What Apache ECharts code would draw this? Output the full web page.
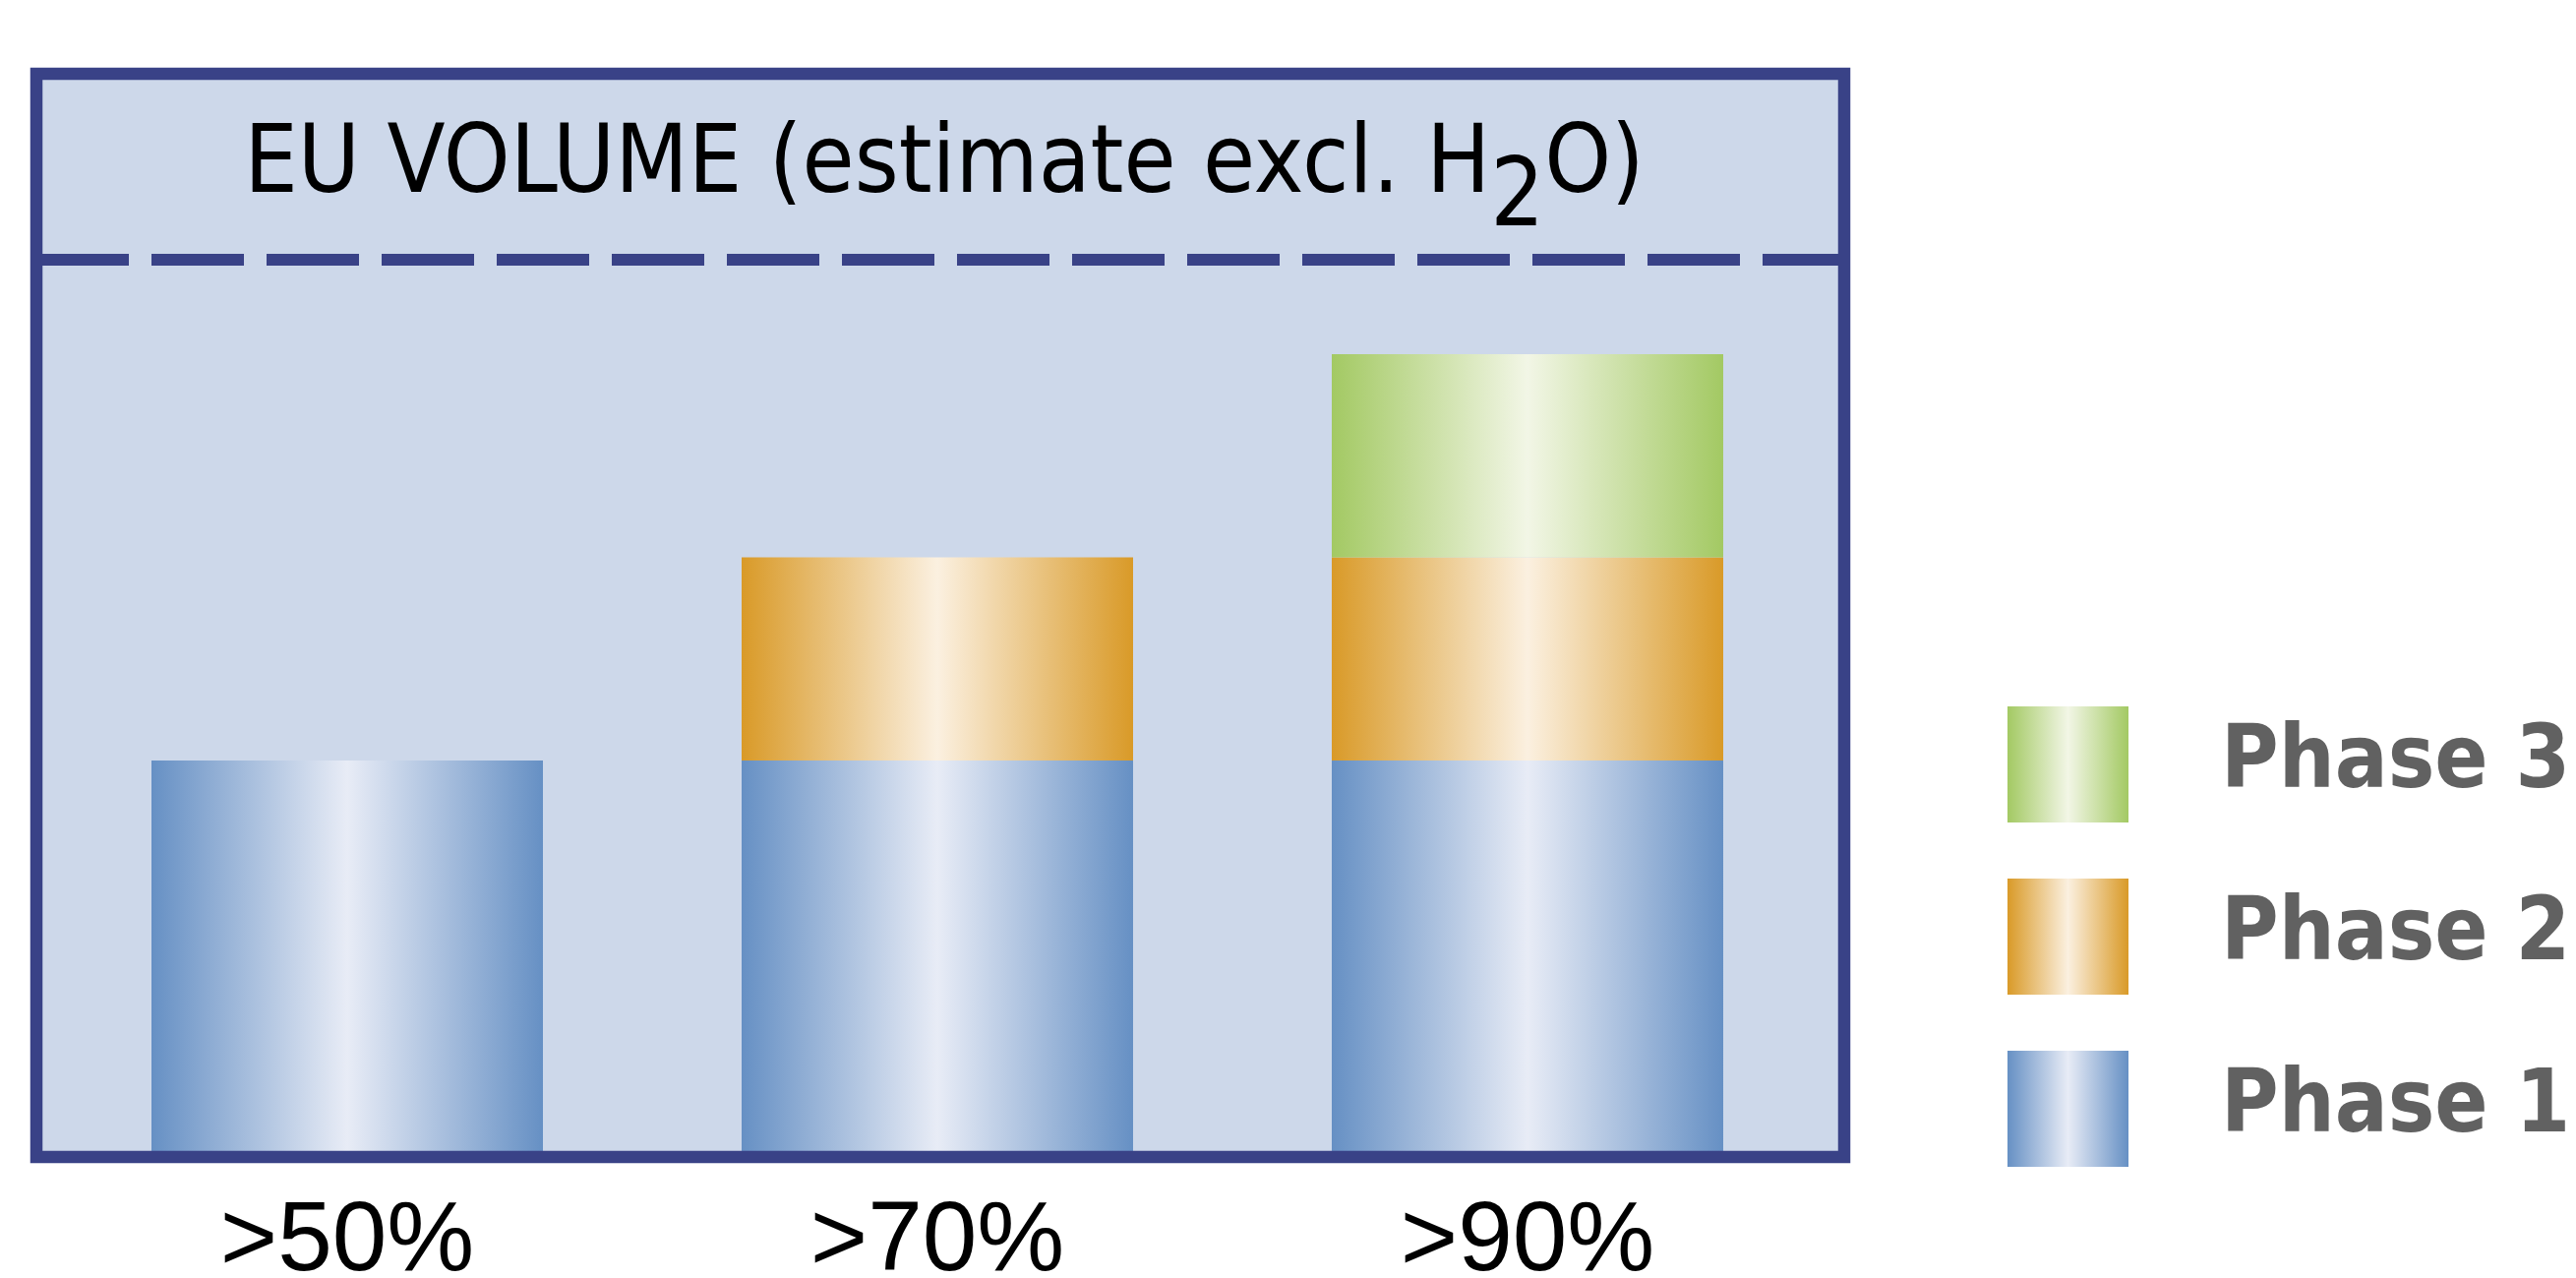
<!DOCTYPE html>
<html>
<head>
<meta charset="utf-8">
<script src="https://cdn.jsdelivr.net/npm/echarts@6/dist/echarts.min.js"></script>
<style>html,body{margin:0;padding:0;background:#fff;}#c{width:2619px;height:1299px;}</style>
</head>
<body>
<div id="c"></div>
<script>
// ---- data ----
const categories = ['>50%', '>70%', '>90%'];
const seriesNames = ['Phase 1', 'Phase 2', 'Phase 3'];
const phase1 = [100, 100, 100];
const phase2 = [null, 52, 52];
const phase3 = [null, null, 52];
const legendOrder = ['Phase 3', 'Phase 2', 'Phase 1'];

// ---- styles ----
const FONT = '"Liberation Sans", Arial, sans-serif';
const COND = '"DejaVu Sans Condensed", "Liberation Sans", sans-serif';
function grad(edge, mid) {
  return new echarts.graphic.LinearGradient(0, 0, 1, 0, [
    { offset: 0, color: edge },
    { offset: 0.5, color: mid },
    { offset: 1, color: edge }
  ]);
}
const fills = [
  grad('#6690C4', '#E8ECF6'),
  grad('#D99A28', '#FBF0E0'),
  grad('#A3C963', '#F2F6E6')
];
const FRAME = '#394287';

const chart = echarts.init(document.getElementById('c'), null, { renderer: 'canvas' });
const values = [phase1, phase2, phase3];

chart.setOption({
  backgroundColor: '#ffffff',
  animation: false,
  title: {
    text: '{n|EU VOLUME (estimate excl. H}{s|2}{n|O)}',
    left: 960,
    top: 122,
    padding: 0,
    textAlign: 'center',
    textStyle: {
      fontFamily: COND,
      fontSize: 96,
      fontWeight: 'normal',
      color: '#000',
      rich: {
        n: { fontFamily: COND, fontSize: 96, color: '#000', verticalAlign: 'top' },
        s: { fontFamily: COND, fontSize: 96, color: '#000', verticalAlign: 'top', padding: [34, 0, 0, 0] }
      }
    },
    z: 20
  },
  legend: {
    orient: 'vertical',
    left: 2041,
    top: 718,
    padding: 0,
    itemWidth: 123,
    itemHeight: 118,
    itemGap: 57,
    icon: 'rect',
    data: legendOrder,
    selectedMode: false,
    textStyle: {
      fontFamily: COND,
      fontSize: 89,
      fontWeight: 'bold',
      color: '#616161',
      padding: [18, 0, 0, 89]
    }
  },
  grid: {
    left: 53,
    width: 1800,
    top: 177.5,
    bottom: 129,
    outerBoundsMode: 'none',
    containLabel: false
  },
  xAxis: {
    type: 'category',
    data: categories,
    axisLine: { show: false },
    axisTick: { show: false },
    axisLabel: {
      margin: 43,
      fontFamily: FONT,
      fontSize: 100,
      color: '#000'
    }
  },
  yAxis: {
    type: 'value',
    min: 0,
    max: 250,
    show: false,
    splitLine: { show: false }
  },
  graphic: [
    {
      type: 'rect', z: 0,
      shape: { x: 37, y: 75, width: 1838, height: 1101 },
      style: { fill: '#CDD8EA', stroke: null }
    },
    {
      type: 'rect', z: 100,
      shape: { x: 37, y: 75, width: 1838, height: 1101 },
      style: { fill: null, stroke: FRAME, lineWidth: 12.5 }
    },
    {
      type: 'line', z: 100,
      shape: { x1: 37, y1: 264, x2: 1875, y2: 264 },
      style: { stroke: FRAME, lineWidth: 12, lineDash: [94, 23], lineCap: 'butt' }
    }
  ],
  series: seriesNames.map((name, i) => ({
    name: name,
    type: 'bar',
    stack: 'total',
    barWidth: 398,
    data: values[i],
    itemStyle: { color: fills[i] },
    z: 5
  }))
});
</script>
</body>
</html>
